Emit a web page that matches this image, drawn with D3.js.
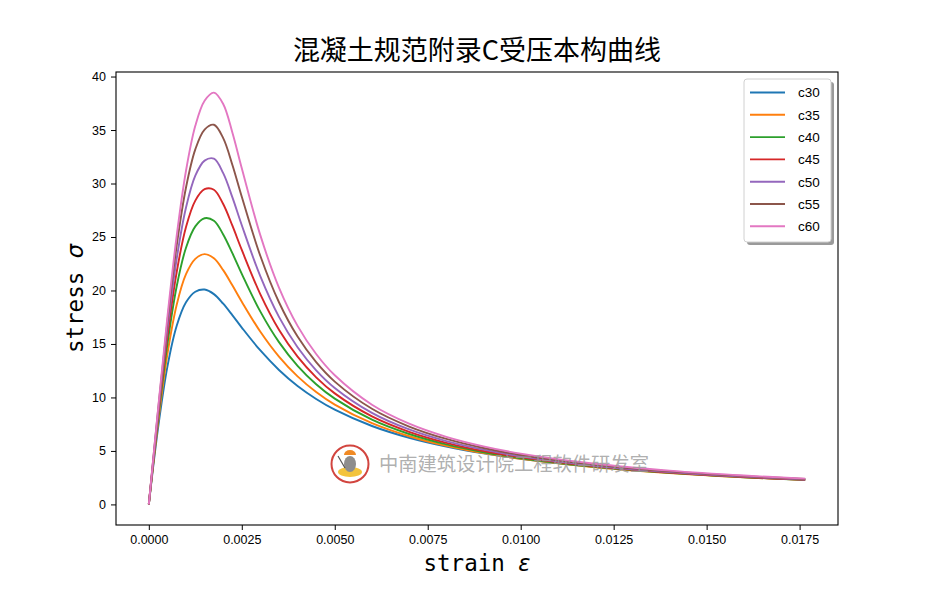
<!DOCTYPE html>
<html>
<head>
<meta charset="utf-8">
<script src="https://cdn.jsdelivr.net/npm/d3@7"></script>
<style>
  body { margin: 0; background: #fff; }
  svg { display: block; }
</style>
</head>
<body>
<svg id="svg" width="931" height="590"></svg>
<script>
// strain points shared by every curve
var strain = [0, 0.00025, 0.0005, 0.00075, 0.001, 0.00125, 0.0015, 0.00175, 0.002, 0.00225, 0.0025,
              0.003, 0.0035, 0.004, 0.0045, 0.005, 0.006, 0.007, 0.008, 0.009, 0.010, 0.012, 0.014, 0.016, 0.01765];

// stress, one list per grade
var c30 = [0, 7.17, 12.88, 16.70, 18.89, 19.88, 20.09, 19.66, 18.76, 17.67, 16.53, 14.39, 12.57, 11.07, 9.86, 8.86, 7.33, 6.23, 5.41, 4.77, 4.27, 3.52, 2.99, 2.60, 2.35];
var c35 = [0, 7.64, 14.05, 18.67, 21.52, 22.95, 23.40, 23.01, 21.90, 20.46, 18.95, 16.14, 13.82, 11.97, 10.51, 9.33, 7.59, 6.37, 5.47, 4.79, 4.26, 3.48, 2.94, 2.54, 2.29];
var c40 = [0, 7.97, 14.99, 20.40, 24.00, 25.99, 26.75, 26.52, 25.24, 23.46, 21.55, 18.02, 15.17, 12.96, 11.24, 9.89, 7.92, 6.58, 5.61, 4.88, 4.32, 3.51, 2.95, 2.54, 2.28];
var c45 = [0, 8.26, 15.73, 21.73, 25.93, 28.40, 29.47, 29.42, 28.08, 26.03, 23.79, 19.64, 16.33, 13.81, 11.88, 10.38, 8.23, 6.79, 5.76, 4.99, 4.40, 3.56, 2.98, 2.56, 2.30];
var c50 = [0, 8.54, 16.42, 22.97, 27.75, 30.73, 32.14, 32.32, 30.97, 28.68, 26.10, 21.31, 17.53, 14.69, 12.54, 10.89, 8.56, 7.01, 5.92, 5.12, 4.50, 3.62, 3.03, 2.60, 2.33];
var c55 = [0, 8.81, 17.10, 24.21, 29.63, 33.19, 35.04, 35.49, 34.24, 31.71, 28.76, 23.22, 18.90, 15.69, 13.30, 11.48, 8.94, 7.28, 6.12, 5.27, 4.62, 3.71, 3.09, 2.65, 2.37];
var c60 = [0, 8.96, 17.53, 25.13, 31.19, 35.39, 37.74, 38.50, 37.44, 34.73, 31.43, 25.15, 20.27, 16.69, 14.06, 12.07, 9.32, 7.55, 6.32, 5.43, 4.75, 3.80, 3.16, 2.70, 2.41];

var names = ["c30", "c35", "c40", "c45", "c50", "c55", "c60"];
var stress = [c30, c35, c40, c45, c50, c55, c60];
var xTicks = [0, 0.0025, 0.005, 0.0075, 0.01, 0.0125, 0.015, 0.0175];
var yTicks = [0, 5, 10, 15, 20, 25, 30, 35, 40];

var colors = ["#1f77b4", "#ff7f0e", "#2ca02c", "#d62728", "#9467bd", "#8c564b", "#e377c2"];

var svg = d3.select("#svg");

// (don't call these top/left: window.top is read only)
var pLeft = 116, pRight = 838, pTop = 72, pBottom = 525;

// matplotlib style 5% padding round the data
var xMax = d3.max(strain), yMax = d3.max(stress, function(s){ return d3.max(s); });
var xScale = d3.scaleLinear()
    .domain([-0.05 * xMax, 1.05 * xMax])
    .range([pLeft, pRight]);
var yScale = d3.scaleLinear()
    .domain([-0.05 * yMax, 1.05 * yMax])
    .range([pBottom, pTop]);

var tickFont = "'Liberation Sans', Arial, sans-serif";
var labelFont = "'DejaVu Sans Mono', 'Liberation Mono', monospace";

// curves
var line = d3.line()
    .x(function(d){ return xScale(d[0]); })
    .y(function(d){ return yScale(d[1]); })
    .curve(d3.curveCatmullRom.alpha(0.5));

var plot = svg.append("g");
stress.forEach(function(s, i){
    plot.append("path")
        .datum(strain.map(function(e, j){ return [e, s[j]]; }))
        .attr("d", line)
        .attr("fill", "none")
        .attr("stroke", colors[i])
        .attr("stroke-width", 1.9)
        .attr("stroke-linejoin", "round");
});

// axes
var xAxis = svg.append("g")
    .attr("transform", "translate(0," + pBottom + ")")
    .call(d3.axisBottom(xScale).tickValues(xTicks).tickSize(5).tickPadding(5)
        .tickFormat(d3.format(".4f")));
var yAxis = svg.append("g")
    .attr("transform", "translate(" + pLeft + ",0)")
    .call(d3.axisLeft(yScale).tickValues(yTicks).tickSize(5).tickPadding(5)
        .tickFormat(d3.format("d")));

[xAxis, yAxis].forEach(function(a){
    a.select(".domain").remove();
    a.selectAll("line").attr("stroke", "#000").attr("stroke-width", 1);
    a.selectAll("text").attr("fill", "#000")
        .style("font-family", tickFont).style("font-size", "12.5px");
});

// frame
svg.append("rect")
    .attr("x", pLeft).attr("y", pTop)
    .attr("width", pRight - pLeft).attr("height", pBottom - pTop)
    .attr("fill", "none").attr("stroke", "#000").attr("stroke-width", 1.1);

// title and axis labels
svg.append("text")
    .attr("x", (pLeft + pRight) / 2).attr("y", 60)
    .attr("text-anchor", "middle")
    .style("font-family", "'Noto Sans CJK SC', sans-serif")
    .style("font-size", "27px").style("font-weight", 400)
    .text("混凝土规范附录C受压本构曲线");

var xl = svg.append("text")
    .attr("x", (pLeft + pRight) / 2).attr("y", 571)
    .attr("text-anchor", "middle")
    .style("font-family", labelFont).style("font-size", "22.5px");
xl.append("tspan").text("strain ");
xl.append("tspan").style("font-family", "'DejaVu Sans', sans-serif").style("font-style", "italic").text("ε");

var yl = svg.append("text")
    .attr("transform", "translate(83," + (pTop + pBottom) / 2 + ") rotate(-90)")
    .attr("text-anchor", "middle")
    .style("font-family", labelFont).style("font-size", "22.5px");
yl.append("tspan").text("stress ");
yl.append("tspan").style("font-family", "'DejaVu Sans', sans-serif").style("font-style", "italic").text("σ");

// legend
var lg = svg.append("g").attr("transform", "translate(744,79)");
lg.append("rect")
    .attr("x", 3).attr("y", 3).attr("width", 87).attr("height", 163).attr("rx", 3)
    .attr("fill", "#9a9a9a");
lg.append("rect")
    .attr("x", 0).attr("y", 0).attr("width", 87).attr("height", 163).attr("rx", 3)
    .attr("fill", "#fff").attr("stroke", "#d0d0d0").attr("stroke-width", 1);
names.forEach(function(n, i){
    var yy = 13.5 + i * 22.3;
    lg.append("line")
        .attr("x1", 6).attr("x2", 41).attr("y1", yy).attr("y2", yy)
        .attr("stroke", colors[i]).attr("stroke-width", 1.9);
    lg.append("text")
        .attr("x", 54).attr("y", yy + 4.8)
        .style("font-family", "'Liberation Sans', Arial, sans-serif")
        .style("font-size", "13.5px")
        .text(n);
});

// watermark
var wm = svg.append("g").attr("transform", "translate(350,464)");
wm.append("circle").attr("r", 18.5).attr("fill", "#fff").attr("fill-opacity", 0.9)
    .attr("stroke", "#d2453f").attr("stroke-width", 2);
wm.append("ellipse").attr("cx", 0).attr("cy", 8).attr("rx", 12).attr("ry", 5).attr("fill", "#f3c33c");
wm.append("ellipse").attr("cx", 0).attr("cy", 0).attr("rx", 6).attr("ry", 8).attr("fill", "#8d8d8d");
wm.append("path").attr("d", "M-6,-9 A6,5 0 0 1 6,-9 Z").attr("fill", "#f08a24");
wm.append("line").attr("x1", -12).attr("y1", -8).attr("x2", -5).attr("y2", 4)
    .attr("stroke", "#555").attr("stroke-width", 1.2);
svg.append("text")
    .attr("x", 379).attr("y", 471)
    .attr("fill", "#9a9a9a").attr("fill-opacity", 0.8)
    .style("font-family", "'Noto Sans CJK SC', sans-serif")
    .style("font-size", "19.3px")
    .text("中南建筑设计院工程软件研发室");
</script>
</body>
</html>
